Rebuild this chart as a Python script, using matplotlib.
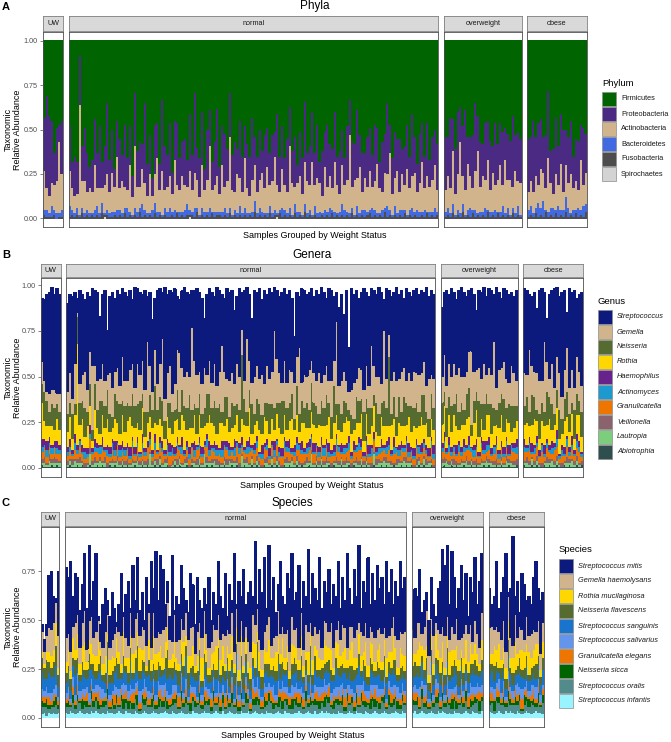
#!/usr/bin/env python3
"""Stacked relative-abundance bars (phyla / genera / species) faceted by weight status."""

import numpy as np
import matplotlib

matplotlib.use("Agg")
import matplotlib.pyplot as plt
from matplotlib.patches import Rectangle

plt.rcParams["font.family"] = ["Liberation Sans", "DejaVu Sans"]

GROUPS = ["UW", "normal", "overweight", "obese"]
COUNTS = [8, 148, 31, 24]

# ---- values in percent, facets separated by "|" -------------------------
# two-digit series: space separated; one-digit series: one char per sample

# Panel A: phyla (Firmicutes = remainder up to 1.0)
A_PROT = (
    "30 52 45 35 18 30 10 30 | "
    "25 15 22 18 28 20 30 22 12 18 26 20 35 15 22 40 18 24 10 20 "
    "28 15 35 18 22 12 30 20 25 14 45 18 22 10 28 20 15 40 25 18 "
    "30 12 22 35 18 20 26 15 32 20 45 18 22 30 12 28 20 16 24 38 "
    "15 22 30 18 25 20 28 14 32 20 18 25 22 35 16 20 28 12 30 22 "
    "18 26 14 40 20 24 15 30 22 18 28 10 25 20 34 16 22 28 18 30 "
    "12 25 20 35 18 22 28 16 24 20 15 30 20 26 20 38 18 22 14 28 "
    "24 18 32 20 15 28 22 40 16 20 26 18 30 14 22 25 18 35 20 16 "
    "28 22 18 30 15 24 20 26 | "
    "30 22 40 18 25 35 20 28 45 15 22 30 38 20 25 18 32 22 28 15 35 20 24 30 18 26 22 40 20 28 25 | "
    "30 25 40 22 35 28 20 30 38 18 25 32 22 28 35 20 26 30 18 24 28 20 32 22"
)
A_ACT = (
    "22 12 10 13 14 18 40 20 | "
    "20 12 10 08 62 15 18 10 14 12 25 10 14 08 16 20 12 22 14 30 "
    "12 18 12 10 26 10 35 14 12 20 15 10 22 08 16 30 12 25 10 14 "
    "18 10 28 15 12 20 14 10 22 12 20 16 10 24 12 18 35 12 15 20 "
    "10 26 12 18 40 14 10 22 16 12 28 14 10 18 20 12 16 22 14 26 "
    "12 18 30 16 10 22 14 12 35 18 10 16 20 12 24 18 14 30 12 20 "
    "16 10 24 14 18 12 28 16 10 22 14 18 44 12 20 16 26 10 18 14 "
    "22 12 16 28 14 10 20 18 32 12 16 24 10 20 14 26 12 18 22 10 "
    "16 28 12 20 14 18 24 12 | "
    "12 18 14 30 12 20 40 16 14 26 18 12 22 35 14 20 16 28 12 22 14 18 26 12 30 16 20 12 24 14 18 | "
    "10 14 12 18 10 22 16 12 30 14 08 20 12 26 10 18 14 22 12 16 10 28 12 18"
)
A_BACT = (
    "34263324 | "
    "6324132321 4526132324 3235214327 3214632143 5241324632 5214325132 2342313252 "
    "4213624312 4231253241 5321423152 3142523136 4223152342 2532142631 5234213524 32413252 | "
    "3425132413 5241325132 4135241325 1 | "
    "4523849134 5263485142 5364"
)
A_FUSO = (
    "21112011 | "
    "1212131212 1213121121 2131212141 2121312121 1213121212 1412121312 2121312121 "
    "2121412121 3121312121 3121412121 1212131212 1213121212 3121214121 2121312121 12131212 | "
    "1213121412 1312121412 1312121312 1 | "
    "1213121412 1312141213 1214"
)
A_SPIRO = (
    "00000000 | "
    "0000000000 0000100000 0000000000 0000000000 0000000010 0000000000 0000000000 "
    "0000000000 0001000000 0000000000 0000000000 0000000000 0000000000 0000000000 00000000 | "
    "0000000000 0000000000 0000000000 0 | "
    "0000000000 0000000000 0000"
)

# Panel B: genera (B_TOTAL = top of each bar; Streptococcus fills up to it)
B_TOTAL = (
    "93 92 95 96 99 95 98 95 | "
    "90 95 94 96 93 97 95 92 96 94 98 97 96 83 95 97 75 94 96 93 "
    "97 95 98 96 94 97 92 99 98 96 95 97 94 96 81 93 97 98 96 99 "
    "95 97 96 98 94 92 97 99 96 95 97 97 98 96 93 82 95 98 96 94 "
    "99 97 95 93 98 96 97 86 94 98 96 97 99 95 82 97 96 98 92 97 "
    "95 98 96 99 97 94 96 98 95 97 93 72 96 94 98 97 95 96 98 94 "
    "97 95 99 96 93 98 97 94 96 88 95 84 97 66 98 95 97 93 96 98 "
    "96 94 98 97 95 99 96 92 98 97 94 96 99 95 97 93 98 96 94 97 "
    "98 95 97 96 99 94 97 95 | "
    "88 96 97 95 98 96 92 97 99 96 94 97 98 95 86 97 96 99 94 98 97 95 99 96 93 98 97 95 96 94 97 | "
    "98 97 95 94 96 87 97 98 96 82 95 97 98 99 94 96 97 85 98 96 97 93 95 96"
)
B_GEM = (
    "12 06 05 10 08 10 06 10 | "
    "12 16 08 22 02 10 14 20 12 18 35 10 16 12 20 14 08 22 16 12 "
    "18 10 24 14 12 20 16 10 22 14 18 12 38 16 10 20 14 18 34 12 "
    "16 20 10 14 22 32 12 16 20 10 45 24 18 12 16 22 10 18 14 20 "
    "12 18 36 14 10 20 16 12 22 18 14 10 40 16 12 20 18 14 22 10 "
    "20 14 18 42 24 16 10 22 14 18 12 20 16 36 10 18 14 22 12 16 "
    "14 22 10 18 16 12 20 14 45 10 18 16 12 10 14 20 10 18 16 12 "
    "18 12 34 16 14 20 10 38 16 12 18 14 20 10 22 16 12 18 14 20 "
    "16 20 12 18 14 22 10 16 | "
    "14 20 12 18 16 22 10 24 14 18 12 20 40 16 12 18 14 22 10 20 16 36 12 18 14 20 16 12 22 18 14 | "
    "18 12 34 16 14 20 18 12 38 16 10 22 14 18 20 12 16 24 14 18 12 20 16 14"
)
B_NEIS = (
    "10 16 14 08 12 12 08 10 | "
    "10 08 14 06 15 12 10 16 08 12 06 14 10 18 08 12 16 10 06 14 "
    "12 16 08 14 10 06 18 12 10 16 08 14 06 12 10 20 08 12 14 10 "
    "08 14 12 06 16 10 14 08 12 18 10 06 14 12 08 10 16 12 08 14 "
    "14 10 06 16 12 08 14 10 06 12 35 14 08 10 16 06 12 14 10 08 "
    "10 16 08 12 06 14 18 08 12 10 14 06 16 10 12 08 14 10 16 12 "
    "12 06 14 10 16 08 12 20 06 14 10 12 08 06 10 06 14 12 08 16 "
    "08 14 10 06 16 12 08 14 10 38 06 12 10 14 08 16 12 06 14 10 "
    "14 08 12 16 06 10 14 12 | "
    "12 08 16 10 14 06 18 10 12 08 14 16 06 12 10 20 08 14 12 06 16 10 08 14 12 18 06 10 14 12 08 | "
    "10 14 08 16 12 06 14 10 08 18 12 14 06 10 16 08 12 14 10 06 16 12 08 14"
)
B_ROTH = (
    "20 10 08 06 10 06 12 08 | "
    "08 12 06 10 55 08 14 06 12 10 04 16 08 06 12 10 14 08 06 12 "
    "10 06 14 08 12 16 06 10 08 12 14 06 10 08 12 06 14 10 08 06 "
    "12 08 06 14 10 08 12 16 06 10 08 14 06 12 10 08 06 14 12 08 "
    "06 14 10 08 12 06 10 08 14 06 10 12 08 16 06 10 08 12 06 14 "
    "10 08 12 06 14 10 08 12 06 10 16 08 12 06 10 14 08 06 12 10 "
    "08 12 06 10 08 14 06 12 10 08 06 12 14 08 10 06 12 08 14 06 "
    "12 06 10 14 08 06 12 10 08 06 14 10 06 12 08 10 06 14 08 12 "
    "06 10 14 08 12 06 10 08 | "
    "10 14 06 12 08 16 10 06 12 08 14 10 06 12 16 08 10 06 14 12 08 10 06 12 14 08 10 12 06 08 10 | "
    "08 12 06 10 14 08 06 12 10 08 14 06 10 12 08 06 14 10 08 12 06 10 14 08"
)
B_HAEMO = (
    "43532343 | "
    "3425314235 2431523425 1342352431 5234251342 3524315234 2513423524 3152342513 "
    "4235243152 3425134235 2431523425 1342352431 5234251342 3524315234 2513423524 31523425 | "
    "3524315234 2513423524 3152342513 4 | "
    "4235243152 3425134235 2431"
)
B_ACTINO = (
    "32423132 | "
    "2314231423 1324213243 1423124132 4213241321 4231324123 1423214312 3241231423 "
    "2143124231 3214231432 1243213241 2314231243 1324213421 3241232143 1423124312 24132143 | "
    "2314231423 1324213243 1423124132 4 | "
    "3241321423 1324231423 1432"
)
B_GRAN = (
    "45343534 | "
    "3425364235 4352634253 6243526342 5364253462 3542635243 6254326354 2436524365 "
    "3426354236 4253624635 2436542635 4263524365 2436253642 5346235426 3542635243 62543263 | "
    "4635243625 3642536425 3462534265 3 | "
    "5362453625 4365243625 3462"
)
B_VEIL = (
    "23142321 | "
    "2131231213 2312132121 3212312132 1231213212 3121321231 2132123121 3212312132 "
    "1231213212 3121321231 2132123121 3212312132 1231213212 3121321231 2132123121 32123121 | "
    "2312132121 3212312132 1231213212 3 | "
    "1321231213 2123121321 2312"
)
B_LAUT = (
    "12131212 | "
    "1213121016 1213120121 3121012131 2107121312 1012131210 1213171213 1012131210 "
    "6121312101 2131210121 3121012171 2131210121 3121012131 2106121312 1012131210 12131210 | "
    "2131210121 3121012131 2101213121 0 | "
    "1213121012 1312101213 1210"
)
B_ABIO = (
    "21112121 | "
    "1211212112 1121211212 1121211211 2121121211 2112121121 2112112121 1212112121 "
    "1211212112 1121211212 1121211211 2121121211 2112121121 2112112121 1211212121 12121121 | "
    "1211212112 1121211212 1121211211 2 | "
    "2112121121 2112112121 1212"
)

# Panel C: species (C_TOTAL = top of each bar; S. mitis fills up to it)
C_TOTAL = (
    "48 40 48 73 75 62 58 75 | "
    "77 72 80 62 74 72 55 68 84 56 88 60 70 84 50 48 58 66 60 52 "
    "64 56 47 58 74 48 63 70 52 78 60 82 55 64 50 72 58 80 66 85 "
    "60 83 76 58 70 52 83 50 62 58 78 66 60 54 74 68 48 72 60 56 "
    "66 58 72 50 64 58 80 62 56 74 52 68 60 84 56 70 62 76 58 64 "
    "70 62 90 58 76 64 82 56 88 60 72 54 68 80 62 58 74 66 84 60 "
    "64 78 56 70 62 86 58 74 66 60 82 56 70 64 76 58 68 62 80 56 "
    "72 60 84 66 58 76 62 88 56 70 64 82 58 74 60 78 66 72 58 80 "
    "64 76 58 70 62 80 66 72 | "
    "60 66 62 76 54 60 64 50 72 58 52 66 70 86 78 88 58 85 72 56 66 78 60 74 52 72 64 82 58 70 84 | "
    "66 58 62 80 56 64 72 84 60 66 93 62 70 54 74 68 60 62 58 72 80 66 60 64"
)
C_GEMH = (
    "10 06 08 12 13 14 10 16 | "
    "12 08 10 06 14 10 08 12 16 06 10 14 08 12 10 04 08 12 10 06 "
    "08 12 06 10 14 08 10 06 12 08 16 10 06 12 08 10 14 06 12 08 "
    "10 06 14 08 12 10 06 14 08 12 10 06 12 08 14 10 06 12 08 10 "
    "12 08 10 06 14 08 12 10 06 14 08 10 12 06 10 14 08 12 06 10 "
    "08 14 10 12 06 10 08 14 12 06 10 08 14 10 06 12 08 10 14 08 "
    "10 06 12 08 14 10 06 12 10 08 14 06 10 12 08 14 10 06 12 08 "
    "14 10 06 12 08 10 14 06 12 08 10 14 08 06 12 10 08 14 06 10 "
    "08 12 10 06 14 08 10 12 | "
    "12 08 14 10 06 12 18 10 08 14 06 10 12 08 16 10 06 12 08 14 10 06 12 08 14 10 06 12 10 08 14 | "
    "10 14 08 12 06 10 14 08 12 10 06 14 08 12 10 06 14 08 12 10 06 12 08 10"
)
C_ROTH = (
    "03 02 04 05 06 06 12 04 | "
    "06 08 04 10 05 12 06 08 14 04 07 10 05 08 12 03 06 09 04 08 "
    "08 04 10 06 05 12 04 08 06 10 04 07 12 05 08 03 10 06 14 08 "
    "05 10 06 08 12 04 07 10 06 04 08 12 05 09 06 10 04 08 06 12 "
    "10 06 04 08 06 12 05 08 10 04 06 09 12 05 08 06 10 04 08 06 "
    "06 08 12 05 10 04 08 06 12 06 04 10 08 05 12 06 08 04 10 06 "
    "08 05 10 06 04 12 06 08 05 10 06 04 12 08 06 10 04 08 12 05 "
    "06 10 04 08 12 06 05 10 08 04 12 06 08 10 05 06 12 04 08 10 "
    "05 08 12 06 04 10 06 08 | "
    "06 04 08 12 05 10 06 04 08 06 12 05 08 10 04 06 12 08 05 10 06 04 08 12 06 10 05 08 06 04 10 | "
    "08 05 10 06 12 04 08 06 10 05 08 14 06 04 10 08 06 12 05 08 10 06 04 08"
)
C_NFLAV = (
    "08 06 10 06 05 08 10 06 | "
    "05 03 06 04 08 05 03 06 04 05 08 03 06 04 05 07 03 05 08 04 "
    "06 04 05 08 03 06 04 05 07 03 06 14 04 05 06 03 08 05 04 06 "
    "04 06 03 05 15 04 06 05 03 07 04 06 05 08 03 06 04 05 07 03 "
    "05 08 04 06 03 05 07 04 06 05 03 08 04 06 05 03 06 08 04 05 "
    "06 04 05 08 03 06 05 04 07 03 06 05 04 08 06 03 05 04 06 08 "
    "04 06 08 03 05 04 06 05 08 04 03 06 05 04 07 06 03 05 04 06 "
    "05 03 06 04 08 05 04 06 03 05 08 04 06 05 03 07 04 06 05 03 "
    "06 04 05 08 03 06 05 04 | "
    "05 08 04 06 03 05 08 04 06 05 03 08 06 04 05 07 03 06 04 05 08 04 06 03 05 06 04 08 05 03 06 | "
    "06 04 08 05 03 06 04 05 08 04 06 03 05 08 04 06 05 03 06 04 08 05 04 06"
)
C_SSANG = (
    "08 06 04 10 08 06 10 05 | "
    "05 08 04 06 10 03 05 08 06 04 12 05 07 03 06 09 04 05 08 06 "
    "04 06 10 05 03 08 06 04 12 05 07 04 06 10 03 05 08 06 04 07 "
    "06 04 05 08 06 10 03 07 05 04 06 08 12 04 06 05 03 08 06 04 "
    "08 05 03 06 04 07 10 05 04 06 08 03 05 07 12 04 06 05 08 03 "
    "04 07 05 10 06 04 05 08 03 06 04 07 10 05 04 06 08 03 05 07 "
    "06 04 08 05 03 06 10 04 07 05 06 04 03 08 05 06 04 10 06 04 "
    "05 08 03 06 04 07 05 10 04 06 05 03 08 06 04 05 07 04 06 08 "
    "04 06 08 05 03 07 04 06 | "
    "06 04 08 05 10 03 06 04 07 05 08 04 06 03 05 08 04 06 10 05 04 07 03 06 05 04 08 06 04 05 07 | "
    "05 08 04 06 03 07 05 04 08 06 03 05 04 07 06 04 08 05 03 06 04 07 05 08"
)
C_SALIV = (
    "43524352 | "
    "3425364243 5324365243 2534263452 4362534243 5263425342 6352434253 6243526342 "
    "5342635243 2536425342 6342534263 5243526342 5364243526 3425342635 2435264352 43526342 | "
    "3425364243 5324365243 2534263452 4 | "
    "4352634253 4263524352 6342"
)
C_GELEG = (
    "23142312 | "
    "2314251324 1342531243 2514324135 2431523142 3524132415 3241523142 3514232415 "
    "3241532142 3524132415 3142532413 2514324135 2431523142 3524132415 3241523142 35241324 | "
    "3425134251 4235142315 2431524135 2 | "
    "2415324153 2431524135 2413"
)
C_NSICCA = (
    "32421342 | "
    "2314231523 1432413251 3241352413 2514321432 5132413241 5231423152 4132513241 "
    "3251423152 1342315241 3152413251 4231524132 4152314231 5241325142 3152413241 52314231 | "
    "3241523142 3514231524 1325142315 2 | "
    "4152314253 1423152413 2514"
)
C_SORAL = (
    "43524352 | "
    "3425364253 4635243562 4352634253 6425364352 4635243562 5364253462 3542635243 "
    "6254326354 2436524365 3426354236 4253624635 2436542635 4263524365 2436253642 53462354 | "
    "4352634253 6425364352 4635243562 5 | "
    "3526445263 4536245364 2536"
)
C_SINF = (
    "23132323 | "
    "3243234323 2434323243 3234324332 4323432343 2334324323 4323243323 4332343242 "
    "3432324334 2343232433 2343243323 3432343242 3434323243 3234324332 4323432343 23343243 | "
    "3423432343 2434323243 3234324332 4 | "
    "4323432434 3243234323 4332"
)

PHYLA = ["Firmicutes", "Proteobacteria", "Actinobacteria", "Bacteroidetes",
         "Fusobacteria", "Spirochaetes"]
PHYLA_COLORS = ["#006400", "#4B2A84", "#D2B48C", "#4169E1", "#4D4D4D", "#D3D3D3"]

GENERA = ["Streptococcus", "Gemella", "Neisseria", "Rothia", "Haemophilus",
          "Actinomyces", "Granulicatella", "Veillonella", "Lautropia", "Abiotrophia"]
GENERA_COLORS = ["#0B1A7C", "#D2B48C", "#556B2F", "#FFD700", "#68228B",
                 "#1C9AD0", "#EE7600", "#8B636C", "#7CCD7C", "#2F4F4F"]

SPECIES = ["Streptococcus mitis", "Gemella haemolysans", "Rothia mucilaginosa",
           "Neisseria flavescens", "Streptococcus sanguinis", "Streptococcus salivarius",
           "Granulicatella elegans", "Neisseria sicca", "Streptococcus oralis",
           "Streptococcus infantis"]
SPECIES_COLORS = ["#0B1A7C", "#D2B48C", "#FFD700", "#556B2F", "#1874CD",
                  "#6495ED", "#EE7600", "#006400", "#528B8B", "#98F5FF"]


def check(name, parts):
    got = [len(p) for p in parts]
    if got != COUNTS:
        raise SystemExit(f"{name}: facet sizes {got}, expected {COUNTS}")


def parse2(name, s):
    parts = [np.array([int(v) for v in p.split()]) / 100 for p in s.split("|")]
    check(name, parts)
    return np.concatenate(parts)


def parse1(name, s):
    parts = [np.array([int(c) for c in p.replace(" ", "")]) / 100 for p in s.split("|")]
    check(name, parts)
    return np.concatenate(parts)


W, H = 671, 742


def fx(px):
    return px / W


def fy(py):
    return 1 - py / H


def draw_panel(fig, layers, names, colors, *, left, right, strip_top, panel_top,
               panel_bottom, yticks, title, title_y, letter, xlab_y,
               leg_title, leg_x, leg_title_y, leg_row0, italic):
    """layers: bottom-to-top list of full-length arrays; names/colors: top-to-bottom."""
    cols = colors[::-1]
    tops = np.sum(layers, axis=0)
    m = tops.max()
    lo, hi = -0.05 * m, 1.05 * m

    gap = 5.5
    total_w = right - left - 3 * gap
    x0 = left
    start = 0
    for gi, (g, n) in enumerate(zip(GROUPS, COUNTS)):
        w = total_w * n / sum(COUNTS)
        ax = fig.add_axes([fx(x0), fy(panel_bottom), w / W, (panel_bottom - panel_top) / H])
        xs = np.arange(n)
        bottom = np.zeros(n)
        for vals, c in zip(layers, cols):
            v = vals[start:start + n]
            # no antialiasing / snapping so neighbouring bars tile without seams
            ax.bar(xs, v, width=1.0, bottom=bottom, color=c, linewidth=0,
                   antialiased=False, snap=False)
            bottom = bottom + v
        ax.set_xlim(-0.5, n - 0.5)
        ax.set_ylim(lo, hi)
        ax.set_xticks([])
        if gi == 0:
            ax.set_yticks(yticks)
            ax.set_yticklabels([f"{t:.2f}" for t in yticks])
            ax.tick_params(axis="y", labelsize=5.2, colors="#4D4D4D", length=2.5,
                           width=0.5, pad=1.5)
        else:
            ax.set_yticks([])
        for sp in ax.spines.values():
            sp.set_color("#4D4D4D")
            sp.set_linewidth(0.6)

        sax = fig.add_axes([fx(x0), fy(panel_top - 1), w / W, (panel_top - 1 - strip_top) / H])
        sax.set_facecolor("#D9D9D9")
        sax.set_xticks([])
        sax.set_yticks([])
        for sp in sax.spines.values():
            sp.set_color("#7F7F7F")
            sp.set_linewidth(0.6)
        sax.text(0.5, 0.5, g, ha="center", va="center", fontsize=5.2, color="#1A1A1A",
                 transform=sax.transAxes)

        x0 += w + gap
        start += n

    cx = (left + right) / 2
    fig.text(fx(cx), fy(title_y), title, ha="center", va="center", fontsize=8.5)
    fig.text(fx(2), fy(title_y), letter, ha="left", va="center", fontsize=8,
             fontweight="bold")
    fig.text(fx(cx), fy(xlab_y), "Samples Grouped by Weight Status", ha="center",
             va="center", fontsize=6.5)
    fig.text(fx(12.5), fy((panel_top + panel_bottom) / 2), "Taxonomic\nRelative Abundance",
             rotation=90, ha="center", va="center", multialignment="center",
             fontsize=6.5, linespacing=1.05)

    # legend
    fig.text(fx(leg_x), fy(leg_title_y), leg_title, ha="left", va="center", fontsize=6.8)
    for i, (nm, c) in enumerate(zip(names, colors)):
        yc = leg_row0 + 15 * i
        fig.add_artist(Rectangle((fx(leg_x), fy(yc + 7.3)), 14.4 / W, 14.6 / H,
                                 transform=fig.transFigure, facecolor=c,
                                 edgecolor="#8C8C8C", linewidth=0.5))
        fig.text(fx(leg_x + 19), fy(yc), nm, ha="left", va="center", fontsize=5.3,
                 style="italic" if italic else "normal", color="#1A1A1A")


def main():
    prot = parse2("A_PROT", A_PROT)
    act = parse2("A_ACT", A_ACT)
    bact = parse1("A_BACT", A_BACT)
    fuso = parse1("A_FUSO", A_FUSO)
    spiro = parse1("A_SPIRO", A_SPIRO)
    firm = 1 - (prot + act + bact + fuso + spiro)
    layers_a = [spiro, fuso, bact, act, prot, firm]

    b_small = [parse1(n, s) for n, s in [("B_ABIO", B_ABIO), ("B_LAUT", B_LAUT),
                                          ("B_VEIL", B_VEIL), ("B_GRAN", B_GRAN),
                                          ("B_ACTINO", B_ACTINO), ("B_HAEMO", B_HAEMO)]]
    b_big = [parse2(n, s) for n, s in [("B_ROTH", B_ROTH), ("B_NEIS", B_NEIS),
                                        ("B_GEM", B_GEM)]]
    b_total = parse2("B_TOTAL", B_TOTAL)
    strep = np.clip(b_total - np.sum(b_small + b_big, axis=0), 0.02, None)
    layers_b = b_small + b_big + [strep]

    c_small = [parse1(n, s) for n, s in [("C_SINF", C_SINF), ("C_SORAL", C_SORAL),
                                          ("C_NSICCA", C_NSICCA), ("C_GELEG", C_GELEG),
                                          ("C_SALIV", C_SALIV)]]
    c_big = [parse2(n, s) for n, s in [("C_SSANG", C_SSANG), ("C_NFLAV", C_NFLAV),
                                        ("C_ROTH", C_ROTH), ("C_GEMH", C_GEMH)]]
    c_total = parse2("C_TOTAL", C_TOTAL)
    mitis = np.clip(c_total - np.sum(c_small + c_big, axis=0), 0.02, None)
    layers_c = c_small + c_big + [mitis]

    fig = plt.figure(figsize=(W / 100, H / 100), dpi=100)

    draw_panel(fig, layers_a, PHYLA, PHYLA_COLORS, left=43, right=587, strip_top=16,
               panel_top=32, panel_bottom=227, yticks=[0, 0.25, 0.5, 0.75, 1.0],
               title="Phyla", title_y=6.5, letter="A", xlab_y=236,
               leg_title="Phylum", leg_x=602, leg_title_y=83, leg_row0=99, italic=False)
    draw_panel(fig, layers_b, GENERA, GENERA_COLORS, left=41, right=583, strip_top=264,
               panel_top=278, panel_bottom=477, yticks=[0, 0.25, 0.5, 0.75, 1.0],
               title="Genera", title_y=255, letter="B", xlab_y=486,
               leg_title="Genus", leg_x=598, leg_title_y=301, leg_row0=317, italic=True)
    draw_panel(fig, layers_c, SPECIES, SPECIES_COLORS, left=41, right=544, strip_top=512,
               panel_top=527, panel_bottom=727, yticks=[0, 0.25, 0.5, 0.75],
               title="Species", title_y=503, letter="C", xlab_y=735,
               leg_title="Species", leg_x=559, leg_title_y=550, leg_row0=566, italic=True)

    fig.savefig("out.png", dpi=100)
    return 0


if __name__ == "__main__":
    raise SystemExit(main())
